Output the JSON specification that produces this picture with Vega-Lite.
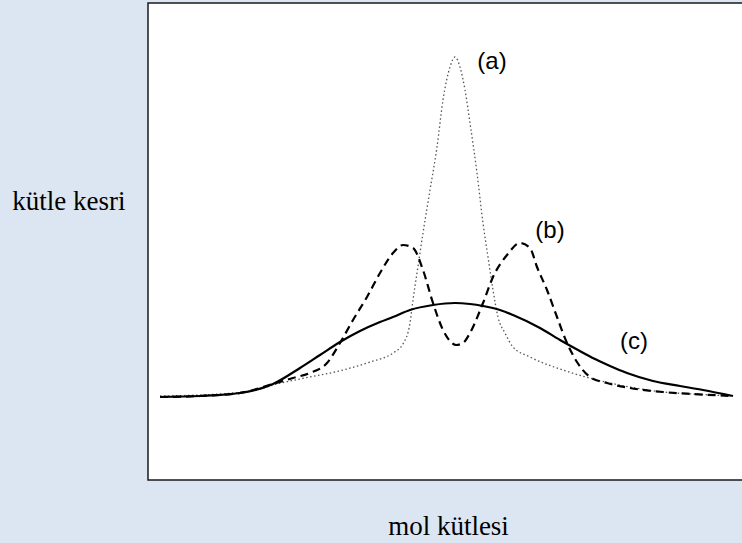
{
  "$schema": "https://vega.github.io/schema/vega-lite/v6.json",
  "autosize": "none",
  "width": 600,
  "height": 477,
  "padding": {"left": 148, "top": 3, "right": 0, "bottom": 63},
  "background": "#dce6f2",
  "config": {
    "view": {"fill": "#ffffff", "stroke": "#1a1a1a", "strokeWidth": 1.5}
  },
  "datasets": {
    "curves": [
      {"s": "a", "x": 12, "y": 84}, {"s": "a", "x": 72, "y": 86}, {"s": "a", "x": 112, "y": 91}, {"s": "a", "x": 125, "y": 95},
      {"s": "a", "x": 152, "y": 101}, {"s": "a", "x": 195, "y": 110}, {"s": "a", "x": 222, "y": 118}, {"s": "a", "x": 245, "y": 127},
      {"s": "a", "x": 255, "y": 136}, {"s": "a", "x": 262, "y": 157}, {"s": "a", "x": 265, "y": 180}, {"s": "a", "x": 269, "y": 207},
      {"s": "a", "x": 275, "y": 247}, {"s": "a", "x": 282, "y": 290}, {"s": "a", "x": 289, "y": 333}, {"s": "a", "x": 295, "y": 380},
      {"s": "a", "x": 302, "y": 413}, {"s": "a", "x": 307, "y": 423}, {"s": "a", "x": 312, "y": 413}, {"s": "a", "x": 317, "y": 390},
      {"s": "a", "x": 322, "y": 357}, {"s": "a", "x": 329, "y": 307}, {"s": "a", "x": 335, "y": 257}, {"s": "a", "x": 340, "y": 223},
      {"s": "a", "x": 345, "y": 190}, {"s": "a", "x": 350, "y": 163}, {"s": "a", "x": 357, "y": 147}, {"s": "a", "x": 365, "y": 133},
      {"s": "a", "x": 382, "y": 123}, {"s": "a", "x": 415, "y": 110}, {"s": "a", "x": 449, "y": 100}, {"s": "a", "x": 482, "y": 93},
      {"s": "a", "x": 515, "y": 88}, {"s": "a", "x": 545, "y": 86}, {"s": "a", "x": 585, "y": 84},
      {"s": "b", "x": 12, "y": 83}, {"s": "b", "x": 52, "y": 84}, {"s": "b", "x": 92, "y": 87}, {"s": "b", "x": 125, "y": 96},
      {"s": "b", "x": 145, "y": 102}, {"s": "b", "x": 162, "y": 107}, {"s": "b", "x": 179, "y": 117}, {"s": "b", "x": 192, "y": 137},
      {"s": "b", "x": 205, "y": 160}, {"s": "b", "x": 219, "y": 183}, {"s": "b", "x": 232, "y": 207}, {"s": "b", "x": 245, "y": 227},
      {"s": "b", "x": 255, "y": 235}, {"s": "b", "x": 265, "y": 232}, {"s": "b", "x": 275, "y": 210}, {"s": "b", "x": 285, "y": 177},
      {"s": "b", "x": 295, "y": 150}, {"s": "b", "x": 304, "y": 137}, {"s": "b", "x": 308, "y": 135}, {"s": "b", "x": 315, "y": 137},
      {"s": "b", "x": 322, "y": 147}, {"s": "b", "x": 335, "y": 177}, {"s": "b", "x": 345, "y": 203}, {"s": "b", "x": 359, "y": 225},
      {"s": "b", "x": 372, "y": 237}, {"s": "b", "x": 382, "y": 232}, {"s": "b", "x": 389, "y": 213}, {"s": "b", "x": 399, "y": 190},
      {"s": "b", "x": 409, "y": 163}, {"s": "b", "x": 419, "y": 137}, {"s": "b", "x": 429, "y": 118}, {"s": "b", "x": 442, "y": 103},
      {"s": "b", "x": 459, "y": 97}, {"s": "b", "x": 482, "y": 92}, {"s": "b", "x": 515, "y": 88}, {"s": "b", "x": 545, "y": 86},
      {"s": "b", "x": 585, "y": 84},
      {"s": "c", "x": 12, "y": 83}, {"s": "c", "x": 52, "y": 84}, {"s": "c", "x": 92, "y": 87}, {"s": "c", "x": 125, "y": 96},
      {"s": "c", "x": 152, "y": 112}, {"s": "c", "x": 172, "y": 125}, {"s": "c", "x": 192, "y": 138}, {"s": "c", "x": 212, "y": 149},
      {"s": "c", "x": 232, "y": 158}, {"s": "c", "x": 245, "y": 163}, {"s": "c", "x": 262, "y": 170}, {"s": "c", "x": 285, "y": 175},
      {"s": "c", "x": 307, "y": 177}, {"s": "c", "x": 322, "y": 176}, {"s": "c", "x": 335, "y": 174}, {"s": "c", "x": 352, "y": 170},
      {"s": "c", "x": 365, "y": 165}, {"s": "c", "x": 392, "y": 152}, {"s": "c", "x": 412, "y": 140}, {"s": "c", "x": 430, "y": 130},
      {"s": "c", "x": 447, "y": 121}, {"s": "c", "x": 462, "y": 114}, {"s": "c", "x": 479, "y": 107}, {"s": "c", "x": 505, "y": 99},
      {"s": "c", "x": 532, "y": 94}, {"s": "c", "x": 555, "y": 90}, {"s": "c", "x": 585, "y": 84}
    ],
    "labels": [
      {"t": "(a)", "x": 344, "y": 418},
      {"t": "(b)", "x": 402, "y": 249},
      {"t": "(c)", "x": 486, "y": 138}
    ]
  },
  "encoding": {
    "x": {
      "field": "x", "type": "quantitative",
      "scale": {"domain": [0, 600], "nice": false, "zero": false},
      "axis": {
        "title": "mol kütlesi", "labels": false, "ticks": false, "domain": false, "grid": false,
        "titleFont": "Liberation Serif", "titleFontSize": 27, "titleFontWeight": "normal", "titleColor": "#000000",
        "titlePadding": 33, "titleX": 300
      }
    },
    "y": {
      "field": "y", "type": "quantitative",
      "scale": {"domain": [0, 477], "nice": false, "zero": false},
      "axis": {
        "title": "kütle kesri", "labels": false, "ticks": false, "domain": false, "grid": false,
        "titleFont": "Liberation Serif", "titleFontSize": 27, "titleFontWeight": "normal", "titleColor": "#000000",
        "titleAngle": 0, "titleAlign": "right", "titleBaseline": "middle", "titleX": -23, "titleY": 198
      }
    }
  },
  "layer": [
    {
      "data": {"name": "curves"},
      "transform": [{"filter": "datum.s === 'a'"}],
      "mark": {"type": "line", "interpolate": "monotone", "color": "#555555", "strokeWidth": 1.3, "strokeDash": [1.5, 2.5]}
    },
    {
      "data": {"name": "curves"},
      "transform": [{"filter": "datum.s === 'b'"}],
      "mark": {"type": "line", "interpolate": "monotone", "color": "#000000", "strokeWidth": 2.2, "strokeDash": [8, 5]}
    },
    {
      "data": {"name": "curves"},
      "transform": [{"filter": "datum.s === 'c'"}],
      "mark": {"type": "line", "interpolate": "monotone", "color": "#000000", "strokeWidth": 2.2}
    },
    {
      "data": {"name": "labels"},
      "mark": {"type": "text", "font": "Liberation Sans", "fontSize": 24, "color": "#000000", "align": "center", "baseline": "middle"},
      "encoding": {"text": {"field": "t", "type": "nominal"}}
    }
  ]
}
